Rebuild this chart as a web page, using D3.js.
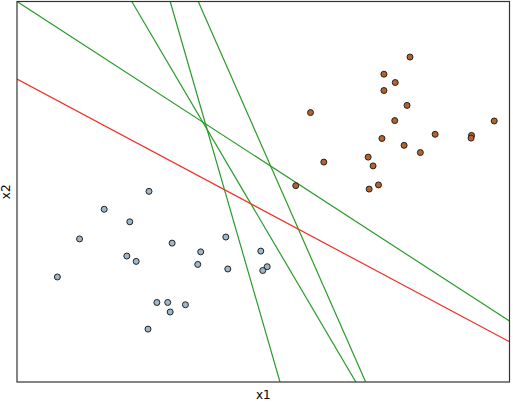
<!DOCTYPE html>
<html>
<head>
<meta charset="utf-8">
<script src="https://cdn.jsdelivr.net/npm/d3@7"></script>
<style>
body { margin: 0; background: #fff; }
text { font-family: "DejaVu Sans", sans-serif; }
</style>
</head>
<body>
<div id="chart-area"></div>
<script>
let width = 513,
height = 405;

// class 0 points (x1, x2)
let blueX = [2.68, 1.77, 2.29, 1.27, 3.15, 4.24, 3.73, 4.95, 2.23, 2.42, 3.67, 4.28, 5.08, 4.99, 0.82, 2.84, 3.06, 3.42, 3.11, 2.66];
let blueY = [5.01, 4.54, 4.21, 3.76, 3.65, 3.81, 3.42, 3.44, 3.31, 3.17, 3.09, 2.97, 3.03, 2.93, 2.76, 2.09, 2.09, 2.03, 1.84, 1.39];

// class 1 points
let orangeX = [7.98, 7.45, 7.68, 7.45, 7.92, 5.96, 7.67, 9.69, 8.49, 9.23, 9.22, 7.41, 7.86, 8.19, 7.13, 6.23, 7.23, 7.34, 7.15, 5.66];
let orangeY = [8.54, 8.09, 7.87, 7.66, 7.27, 7.08, 6.87, 6.86, 6.51, 6.48, 6.41, 6.40, 6.22, 6.03, 5.91, 5.78, 5.68, 5.18, 5.07, 5.16];

// separating lines, two points each: [x1a, x2a, x1b, x2b]
let greenLines = [
	[0, 10, 10, 1.60],
	[2.33, 10, 6.88, 0],
	[3.11, 10, 5.34, 0],
	[3.68, 10, 7.08, 0]
];
let redLine = [0, 7.96, 10, 1.06];

let svg = d3.select("#chart-area").append("svg")
.attr("width", width)
.attr("height", height);

let pLeft = 17, pRight = 509.5, pTop = 1.5, pBottom = 382;

let x = d3.scaleLinear().domain([0, 10]).range([pLeft, pRight]);
let y = d3.scaleLinear().domain([0, 10]).range([pBottom, pTop]);

svg.append("clipPath").attr("id", "clip")
	.append("rect")
	.attr("x", pLeft).attr("y", pTop)
	.attr("width", pRight - pLeft).attr("height", pBottom - pTop);

let plot = svg.append("g").attr("clip-path", "url(#clip)");

let blue = blueX.map((d, i) => [d, blueY[i]]);
let orange = orangeX.map((d, i) => [d, orangeY[i]]);

plot.selectAll(".green")
	.data(greenLines)
	.enter().append("line")
	.attr("class", "green")
	.attr("x1", d => x(d[0]))
	.attr("y1", d => y(d[1]))
	.attr("x2", d => x(d[2]))
	.attr("y2", d => y(d[3]))
	.style("stroke", "#2a9a2a")
	.style("stroke-width", 1.2);

plot.append("line")
	.attr("x1", x(redLine[0]))
	.attr("y1", y(redLine[1]))
	.attr("x2", x(redLine[2]))
	.attr("y2", y(redLine[3]))
	.style("stroke", "#f0302a")
	.style("stroke-width", 1.2);

plot.selectAll(".blue")
	.data(blue)
	.enter().append("circle")
	.attr("class", "blue")
	.attr("cx", d => x(d[0]))
	.attr("cy", d => y(d[1]))
	.attr("r", 3)
	.attr("fill", "#9bb8cf")
	.attr("stroke", "#222")
	.attr("stroke-width", 1);

plot.selectAll(".orange")
	.data(orange)
	.enter().append("circle")
	.attr("class", "orange")
	.attr("cx", d => x(d[0]))
	.attr("cy", d => y(d[1]))
	.attr("r", 3)
	.attr("fill", "#b3622c")
	.attr("stroke", "#222")
	.attr("stroke-width", 1);

// frame
svg.append("rect")
	.attr("x", pLeft).attr("y", pTop)
	.attr("width", pRight - pLeft).attr("height", pBottom - pTop)
	.attr("fill", "none")
	.attr("stroke", "#333")
	.attr("stroke-width", 1.2);

svg.append("text")
	.attr("x", (pLeft + pRight) / 2)
	.attr("y", 399)
	.attr("text-anchor", "middle")
	.attr("font-size", 12)
	.text("x1");

svg.append("text")
	.attr("transform", "translate(10," + ((pTop + pBottom) / 2) + ") rotate(-90)")
	.attr("text-anchor", "middle")
	.attr("font-size", 12)
	.text("x2");
</script>
</body>
</html>
